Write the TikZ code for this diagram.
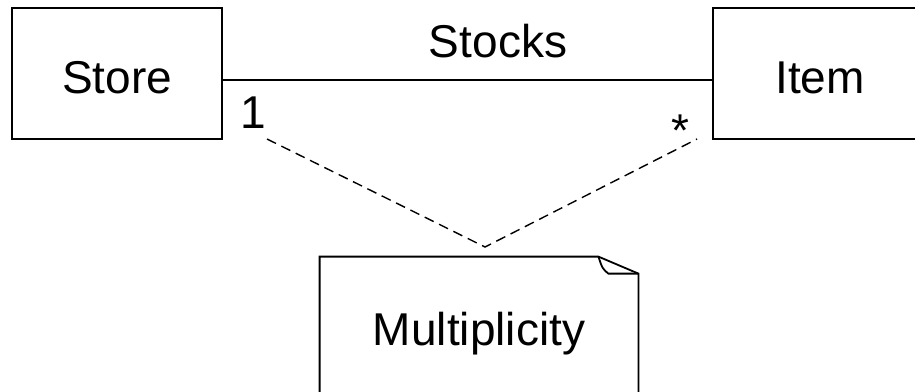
\documentclass[tikz,border=0pt]{standalone}
\usepackage{fontspec}
\setmainfont{Liberation Sans}
\tikzset{
  umlbox/.style={draw,line width=1pt,minimum width=105pt,minimum height=65.5pt,inner sep=0pt,text height=19.5pt,text depth=0pt},
  notebox/.style={minimum width=159pt,minimum height=68.5pt,inner sep=0pt,text height=19.5pt,text depth=0pt},
  mult/.style={anchor=base,inner sep=0pt}
}
\begin{document}
\begin{tikzpicture}[x=0.5pt,y=-0.5pt,font=\fontsize{23}{27}\selectfont]
		\useasboundingbox (0,0) rectangle (915,391);
		\clip (0,0) rectangle (915,391);
		\node [umlbox] (store) at (117,73.5) {Store};
		\node [umlbox,minimum width=107pt] (item) at (820,73.5) {Item};
		\coordinate (assoc) at (0,80);
		\draw [line width=0.8pt] (store.east |- assoc) -- (item.west |- assoc);
		\node [mult] (stocks) at (498,57) {Stocks};
		\node [mult] (one) at (253,128) {1};
		\node [mult] (many) at (680,146) {*};
		% note with folded corner
		\node [notebox] (note) at (479,325.5) {Multiplicity};
		\draw [line width=0.9pt] (note.south west) -- (note.north west) -- ([xshift=-20pt]note.north east) -- ([yshift=-8.5pt]note.north east) -- (note.south east);
		\draw [line width=0.9pt] ([xshift=-20pt]note.north east) .. controls ([xshift=-18pt,yshift=-6pt]note.north east) .. ([xshift=-15pt,yshift=-8.5pt]note.north east) -- ([yshift=-8.5pt]note.north east);
		\coordinate (onefoot) at (267,139);
		\coordinate (manyfoot) at (697,139);
		\coordinate (apex) at (485,247);
		\draw [dashed,dash pattern=on 5pt off 3pt,line width=0.7pt] (onefoot) -- (apex) -- (manyfoot);
\end{tikzpicture}
\end{document}
